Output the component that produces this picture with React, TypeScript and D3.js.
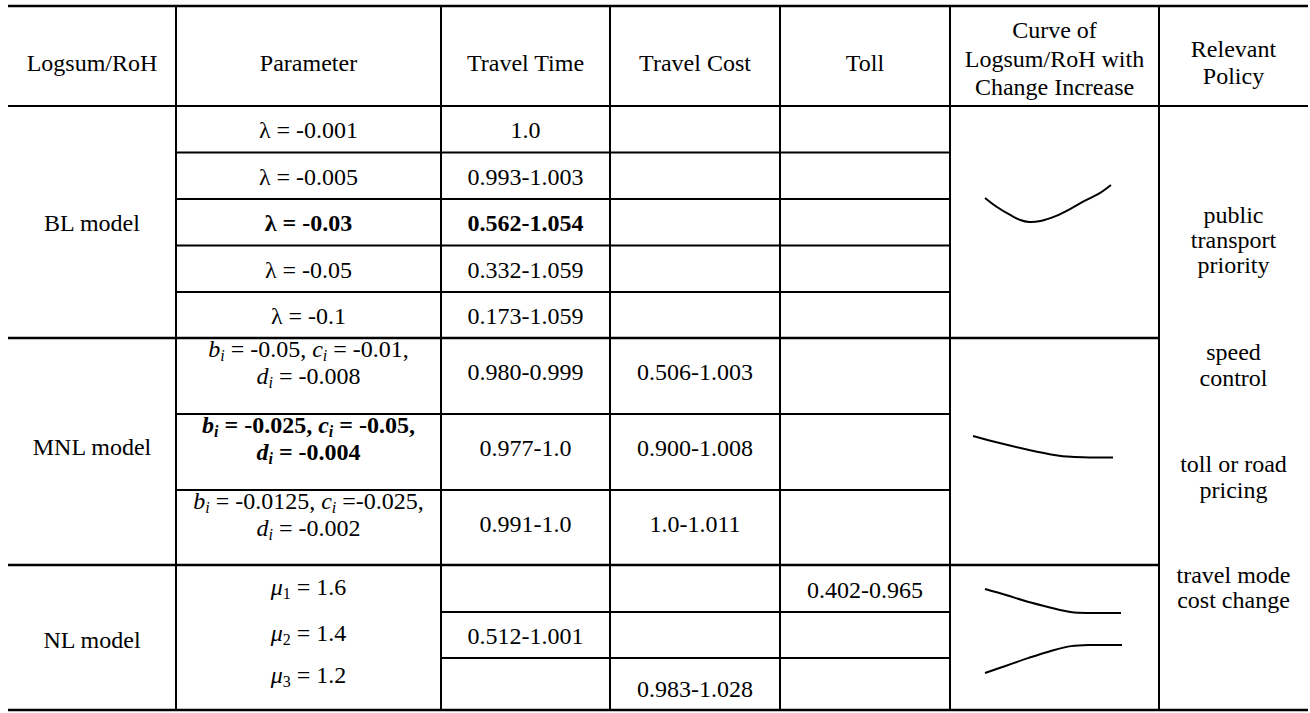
import React from "react";
import * as d3 from "d3";

// ---------- data ----------
const headers = [
  ["Logsum/RoH"],
  ["Parameter"],
  ["Travel Time"],
  ["Travel Cost"],
  ["Toll"],
  ["Curve of", "Logsum/RoH with", "Change Increase"],
  ["Relevant", "Policy"],
];
const models = ["BL model", "MNL model", "NL model"];

const blLambda = ["-0.001", "-0.005", "-0.03", "-0.05", "-0.1"];
const blTravelTime = ["1.0", "0.993-1.003", "0.562-1.054", "0.332-1.059", "0.173-1.059"];
const blBoldRow = 2;

const mnlB = ["-0.05", "-0.025", "-0.0125"];
const mnlC = [" = -0.01,", " = -0.05,", " =-0.025,"];
const mnlD = ["-0.008", "-0.004", "-0.002"];
const mnlTravelTime = ["0.980-0.999", "0.977-1.0", "0.991-1.0"];
const mnlTravelCost = ["0.506-1.003", "0.900-1.008", "1.0-1.011"];
const mnlBoldRow = 1;

const nlMu = ["1.6", "1.4", "1.2"];
const nlToll = ["0.402-0.965", "", ""];
const nlTravelTime = ["", "0.512-1.001", ""];
const nlTravelCost = ["", "", "0.983-1.028"];

const policies = [
  ["public", "transport", "priority"],
  ["speed", "control"],
  ["toll or road", "pricing"],
  ["travel mode", "cost change"],
];

// sketched curve shapes (normalised t, value)
const blCurve: [number, number][] = [
  [0, 0.65], [0.095, 0.405], [0.2, 0.19], [0.28, 0.054], [0.35, 0], [0.44, 0.027],
  [0.56, 0.16], [0.675, 0.35], [0.79, 0.57], [0.91, 0.78], [1, 1],
];
const mnlCurve: [number, number][] = [
  [0, 1], [0.19, 0.67], [0.4, 0.35], [0.58, 0.12], [0.7, 0.03], [0.84, 0], [1, 0],
];
const nlTollCurve: [number, number][] = [
  [0, 1], [0.16, 0.74], [0.32, 0.46], [0.63, 0.04], [0.79, 0], [1, 0],
];
const nlTimeCurve: [number, number][] = [
  [0, 0], [0.16, 0.27], [0.32, 0.54], [0.47, 0.77], [0.63, 0.96], [0.79, 1], [1, 1],
];

// ---------- layout ----------
const W = 1310;
const H = 713;
const FONT = "'Liberation Serif', 'Times New Roman', Times, serif";
const FS = 24;
const SUB = 16;
const colEdges = [8, 176, 441, 610, 780, 950, 1159, 1308];
const yTop = 6;
const yHead = 106;
const blRows = [106, 152.5, 199, 245.5, 292, 338];
const mnlRows = [338, 414, 490, 565];
const nlRows = [565, 612, 658, 710];

const cx = (i: number) => (colEdges[i] + colEdges[i + 1]) / 2;

function Txt(props: any) {
  return (
    <text
      fontFamily={FONT}
      fontSize={FS}
      textAnchor="middle"
      fill="#000"
      {...props}
    />
  );
}

function Curve({ data, x0, x1, yLow, yHigh }: any) {
  const xs = d3.scaleLinear().domain([0, 1]).range([x0, x1]);
  const ys = d3.scaleLinear().domain([0, 1]).range([yLow, yHigh]);
  const gen = d3
    .line<[number, number]>()
    .x((d) => xs(d[0]))
    .y((d) => ys(d[1]))
    .curve(d3.curveCatmullRom.alpha(0.5));
  return <path d={gen(data) || ""} fill="none" stroke="#000" strokeWidth={2} />;
}

export default function App() {
  const hLines: [number, number, number, number][] = [];
  // [y, x1, x2, width]
  hLines.push([yTop, colEdges[0], colEdges[7], 2.6]);
  hLines.push([yHead, colEdges[0], colEdges[7], 2]);
  blRows.slice(1, -1).forEach((y) => hLines.push([y, colEdges[1], colEdges[5], 2]));
  hLines.push([blRows[5], colEdges[0], colEdges[6], 2.4]);
  mnlRows.slice(1, -1).forEach((y) => hLines.push([y, colEdges[1], colEdges[5], 2]));
  hLines.push([mnlRows[3], colEdges[0], colEdges[6], 2.4]);
  nlRows.slice(1, -1).forEach((y) => hLines.push([y, colEdges[2], colEdges[5], 2]));
  hLines.push([nlRows[3], colEdges[0], colEdges[7], 2.6]);

  const mid = (a: number[], i: number) => (a[i] + a[i + 1]) / 2;

  return (
    <svg
      width={W}
      height={H}
      viewBox={`0 0 ${W} ${H}`}
      style={{ position: "absolute", left: 0, top: 0, background: "#fff" }}
    >
      <rect x={0} y={0} width={W} height={H} fill="#fff" />
      {/* vertical lines */}
      {colEdges.slice(1, -1).map((x, i) => (
        <line key={"v" + i} x1={x} x2={x} y1={yTop} y2={nlRows[3]} stroke="#000" strokeWidth={2} />
      ))}
      {hLines.map(([y, a, b, w], i) => (
        <line key={"h" + i} x1={a} x2={b} y1={y} y2={y} stroke="#000" strokeWidth={w} />
      ))}

      {/* header */}
      {headers.map((lines, i) => {
        const lh = 28.5;
        const base = lines.length === 1 ? 71 : lines.length === 2 ? 57 : 38;
        const step = lines.length === 2 ? 27 : lh;
        return (
          <Txt key={"hd" + i} x={cx(i)} y={base}>
            {lines.map((l, j) => (
              <tspan key={j} x={cx(i)} y={base + j * step}>
                {l}
              </tspan>
            ))}
          </Txt>
        );
      })}

      {/* BL */}
      <Txt x={cx(0)} y={mid(blRows, 2) + 9}>{models[0]}</Txt>
      {blLambda.map((v, i) => (
        <Txt key={"bl" + i} x={cx(1)} y={mid(blRows, i) + 9} fontWeight={i === blBoldRow ? "bold" : "normal"}>
          {`λ = ${v}`}
        </Txt>
      ))}
      {blTravelTime.map((v, i) => (
        <Txt key={"blt" + i} x={cx(2)} y={mid(blRows, i) + 9} fontWeight={i === blBoldRow ? "bold" : "normal"}>
          {v}
        </Txt>
      ))}
      <Curve data={blCurve} x0={985} x1={1111} yLow={222} yHigh={185} />

      {/* MNL */}
      <Txt x={cx(0)} y={mnlRows[1] + 41}>{models[1]}</Txt>
      {mnlB.map((b, i) => {
        const top = mnlRows[i];
        const bold = i === mnlBoldRow ? "bold" : "normal";
        return (
          <g key={"mp" + i}>
            <Txt x={cx(1)} y={top + 19} fontWeight={bold}>
              <tspan fontStyle="italic">b</tspan>
              <tspan fontStyle="italic" fontSize={SUB} dy={4}>i</tspan>
              <tspan dy={-4}>{` = ${b}, `}</tspan>
              <tspan fontStyle="italic">c</tspan>
              <tspan fontStyle="italic" fontSize={SUB} dy={4}>i</tspan>
              <tspan dy={-4}>{mnlC[i]}</tspan>
            </Txt>
            <Txt x={cx(1)} y={top + 46} fontWeight={bold}>
              <tspan fontStyle="italic">d</tspan>
              <tspan fontStyle="italic" fontSize={SUB} dy={4}>i</tspan>
              <tspan dy={-4}>{` = ${mnlD[i]}`}</tspan>
            </Txt>
            <Txt x={cx(2)} y={top + 42}>{mnlTravelTime[i]}</Txt>
            <Txt x={cx(3)} y={top + 42}>{mnlTravelCost[i]}</Txt>
          </g>
        );
      })}
      <Curve data={mnlCurve} x0={973} x1={1113} yLow={457.5} yHigh={436} />

      {/* NL */}
      <Txt x={cx(0)} y={648}>{models[2]}</Txt>
      {nlMu.map((m, i) => (
        <Txt key={"mu" + i} x={cx(1)} y={[595, 641, 683][i]}>
          <tspan fontStyle="italic">μ</tspan>
          <tspan fontSize={SUB} dy={4}>{String(i + 1)}</tspan>
          <tspan dy={-4}>{` = ${m}`}</tspan>
        </Txt>
      ))}
      {nlTravelTime.map((v, i) => (v ? <Txt key={"nt" + i} x={cx(2)} y={mid(nlRows, i) + 9}>{v}</Txt> : null))}
      {nlTravelCost.map((v, i) => (v ? <Txt key={"nc" + i} x={cx(3)} y={mid(nlRows, i) + 13}>{v}</Txt> : null))}
      {nlToll.map((v, i) => (v ? <Txt key={"nto" + i} x={cx(4)} y={mid(nlRows, i) + 9}>{v}</Txt> : null))}
      <Curve data={nlTollCurve} x0={985} x1={1121} yLow={613} yHigh={589} />
      <Curve data={nlTimeCurve} x0={985} x1={1122} yLow={673} yHigh={645} />

      {/* policies */}
      {policies.map((lines, i) => {
        const base = [223, 360, 472, 583][i];
        const step = [25, 26, 26, 25][i];
        return (
          <Txt key={"pol" + i} x={cx(6)} y={base}>
            {lines.map((l, j) => (
              <tspan key={j} x={cx(6)} y={base + j * step}>
                {l}
              </tspan>
            ))}
          </Txt>
        );
      })}
    </svg>
  );
}
